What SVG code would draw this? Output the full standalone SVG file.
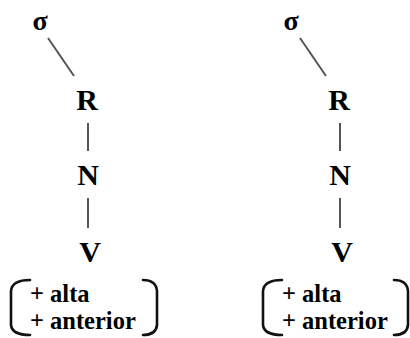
<svg xmlns="http://www.w3.org/2000/svg" width="410" height="338" viewBox="0 0 410 338">
<style>
text{font-family:'Liberation Serif','DejaVu Serif',serif;font-weight:700;fill:#000;}
.big{font-size:30px;text-anchor:middle;}
.sig{font-size:28px;text-anchor:middle;}
.feat{font-size:24.5px;}
.ln{stroke:#555;stroke-width:2;fill:none;}
.br{stroke:#111;stroke-width:2.6;fill:none;stroke-linecap:round;stroke-linejoin:round;}
</style>
<rect width="410" height="338" fill="#fff"/>
<g id="connectors">
<line class="ln" x1="48" y1="38" x2="74" y2="76"/>
<line class="ln" x1="88" y1="123" x2="88" y2="151"/>
<line class="ln" x1="88" y1="198" x2="88" y2="228"/>
<line class="ln" x1="300" y1="38" x2="326" y2="76"/>
<line class="ln" x1="340" y1="123" x2="340" y2="151"/>
<line class="ln" x1="340" y1="198" x2="340" y2="228"/>
</g>
<g id="sigma1"><text class="sig" x="40" y="30">σ</text></g>
<g id="R1"><text class="big" x="87" y="110">R</text></g>
<g id="N1"><text class="big" x="88" y="185">N</text></g>
<g id="V1"><text class="big" x="90" y="262">V</text></g>
<g id="feat1">
<path class="br" d="M30 280 Q12 280 11 291 L11 325 Q12 335 30 335"/>
<path class="br" d="M143 280 Q156 280 157 291 L157 325 Q156 335 143 335"/>
<text class="feat" x="30" y="302">+ alta</text>
<text class="feat" x="30" y="329">+ anterior</text>
</g>
<g id="sigma2"><text class="sig" x="291" y="30">σ</text></g>
<g id="R2"><text class="big" x="339" y="110">R</text></g>
<g id="N2"><text class="big" x="340" y="185">N</text></g>
<g id="V2"><text class="big" x="342" y="262">V</text></g>
<g id="feat2">
<path class="br" d="M282 280 Q264 280 263 291 L263 325 Q264 335 282 335"/>
<path class="br" d="M394 280 Q407 280 408 291 L408 325 Q407 335 394 335"/>
<text class="feat" x="282" y="302">+ alta</text>
<text class="feat" x="282" y="329">+ anterior</text>
</g>
</svg>
